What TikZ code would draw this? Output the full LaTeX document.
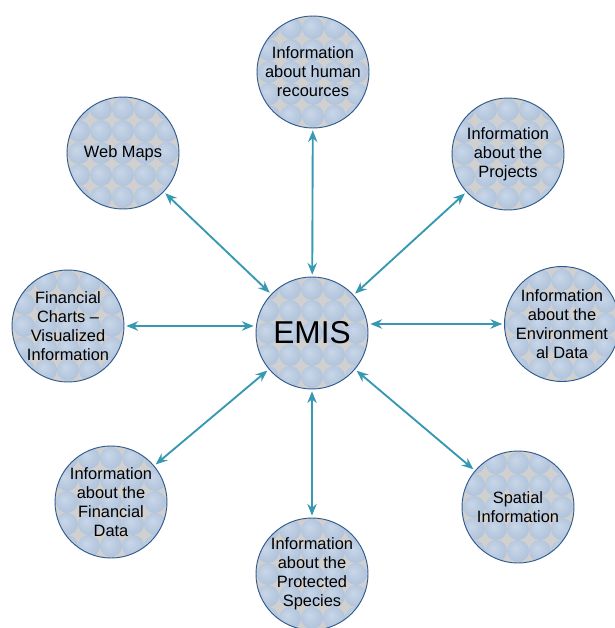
\documentclass[tikz,border=0pt]{standalone}
\usepackage{fontspec}
\setmainfont{Liberation Sans}
\usetikzlibrary{arrows.meta}
\usepackage{xcolor}
\definecolor{bubblehi}{HTML}{C8D6E8}
\definecolor{bubblemid}{HTML}{AFC2DA}
\definecolor{bubblelo}{HTML}{9CB1CC}
\definecolor{bubblegap}{HTML}{D0D0D0}
\definecolor{bubbleedge}{HTML}{2F5A8E}
\definecolor{linkcol}{HTML}{3799B1}
\pgfdeclareradialshading{bubbleshade}{\pgfpoint{-7bp}{7bp}}{color(0bp)=(bubblehi); color(30bp)=(bubblemid); color(48bp)=(bubblelo); color(50bp)=(bubblelo)}
\tikzset{bubble/.style={circle, draw=bubbleedge, line width=0.8pt, minimum size=3.36cm,
           inner sep=0pt, outer sep=2pt, align=center,
           font=\fontsize{14}{16.2}\selectfont,
           path picture={
             \fill[bubblegap] (path picture bounding box.south west) rectangle (path picture bounding box.north east);
             \foreach \i in {-3,...,3}{
               \foreach \j in {-3,...,3}{
                 \shade[shading=bubbleshade] ([shift={(\i*0.66cm,\j*0.66cm)}]path picture bounding box.center) circle (0.33cm);
               }
             }
           }},
         link/.style={<->, >={Stealth[length=10pt,width=8pt]}, draw=linkcol, line width=1.6pt}}

\begin{document}
\begin{tikzpicture}[x=0.03cm, y=-0.03cm]
        \useasboundingbox (0,0) rectangle (614,628);

        % Centre node
        \node[bubble, font=\fontsize{27}{30}\selectfont] (emis) at (312, 333) {EMIS};

        % Nodes round the centre
        \node[bubble] (hr) at (313, 72) {Information\\about human\\recources};
        \node[bubble] (web) at (123, 153) {Web Maps};
        \node[bubble] (proj) at (508, 154) {Information\\about the\\Projects};
        \node[bubble] (fc) at (68, 326) {Financial\\Charts --\\Visualized\\Information};
        \node[bubble] (env) at (562, 324) {Information\\about the\\Environment\\al Data};
        \node[bubble] (fd) at (111, 502) {Information\\about the\\Financial\\Data};
        \node[bubble] (prot) at (312, 574) {Information\\about the\\Protected\\Species};
        \node[bubble] (spat) at (518, 507) {Spatial\\Information};

        % Links to the centre
        \draw[link] (hr) -- (emis);
        \draw[link] (web) -- (emis);
        \draw[link] (proj) -- (emis);
        \draw[link] (fc.east) -- (fc.east -| emis.west);
        \draw[link] (env.west) -- (env.west -| emis.east);
        \draw[link] (fd) -- (emis);
        \draw[link] (prot) -- (emis);
        \draw[link] (spat) -- (emis);

    \end{tikzpicture}
\end{document}
